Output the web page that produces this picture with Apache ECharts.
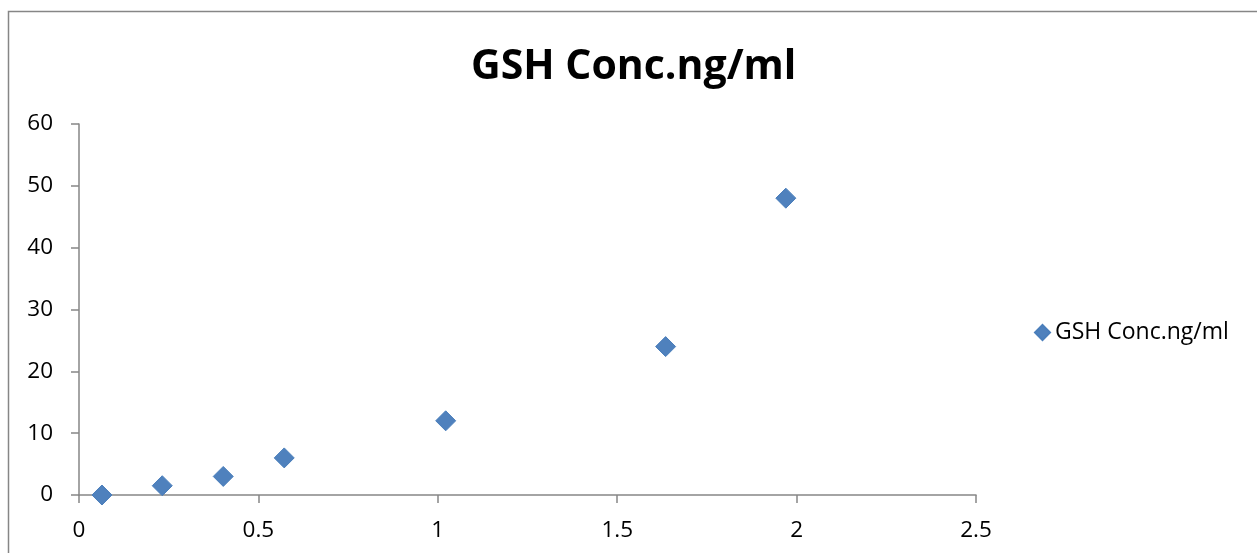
<!DOCTYPE html>
<html>
<head>
<meta charset="utf-8">
<script src="https://cdn.jsdelivr.net/npm/echarts@6/dist/echarts.min.js"></script>
<style>
  html, body { margin: 0; padding: 0; background: #fff; }
  #main { width: 1257px; height: 553px; }
</style>
</head>
<body>
<div id="main"></div>
<script>
// absorbance (x) vs concentration (y)
var xValues = [0.064, 0.232, 0.402, 0.572, 1.022, 1.635, 1.970];
var yValues = [0, 1.5, 3, 6, 12, 24, 48];
var seriesName = 'GSH Conc.ng/ml';

var points = xValues.map(function (x, i) { return [x, yValues[i]]; });

var myChart = echarts.init(document.getElementById('main'));
var axisGray = '#868686';
var font = 'Open Sans';

var option = {
  animation: false,
  title: {
    text: 'GSH Conc.ng/ml',
    left: 466,
    top: 42,
    textStyle: { fontFamily: font, fontSize: 41, fontWeight: 'bold', color: '#000' }
  },
  legend: {
    data: [seriesName],
    icon: 'diamond',
    itemWidth: 15,
    itemHeight: 15,
    itemGap: 5,
    left: 1029,
    top: 316,
    textStyle: { fontFamily: font, fontSize: 23, color: '#000' }
  },
  graphic: [{
    type: 'rect',
    shape: { x: 8.5, y: 11.5, width: 1300, height: 600 },
    style: { fill: 'none', stroke: axisGray, lineWidth: 1.5 },
    silent: true
  }],
  grid: { left: 79, top: 124, width: 897, height: 371 },
  xAxis: {
    type: 'value',
    min: 0,
    max: 2.5,
    interval: 0.5,
    splitLine: { show: false },
    axisLine: { onZero: false, lineStyle: { color: axisGray, width: 1.5 } },
    axisTick: { show: true, length: 8, lineStyle: { color: axisGray, width: 1.5 } },
    axisLabel: { margin: 24, fontFamily: font, fontSize: 22.5, color: '#000' }
  },
  yAxis: {
    type: 'value',
    min: 0,
    max: 60,
    interval: 10,
    splitLine: { show: false },
    axisLine: { show: true, lineStyle: { color: axisGray, width: 1.5 } },
    axisTick: { show: true, length: 8, lineStyle: { color: axisGray, width: 1.5 } },
    axisLabel: { margin: 26, fontFamily: font, fontSize: 22.5, color: '#000' }
  },
  series: [{
    name: seriesName,
    type: 'scatter',
    symbol: 'diamond',
    symbolSize: 20,
    itemStyle: { color: '#4f81bd', borderColor: '#4a7ebb', borderWidth: 1, opacity: 1 },
    data: points
  }]
};
myChart.setOption(option);
</script>
</body>
</html>
